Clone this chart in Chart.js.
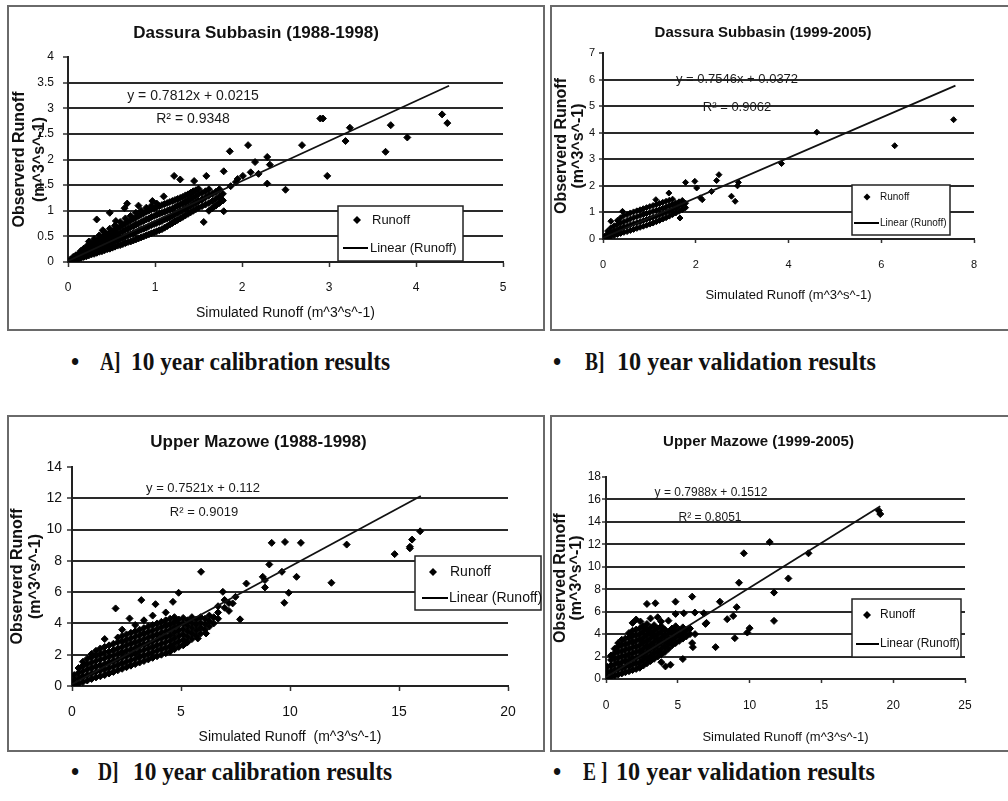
<!DOCTYPE html>
<html><head><meta charset="utf-8">
<script src="https://cdn.jsdelivr.net/npm/chart.js@4.4.1/dist/chart.umd.min.js"></script>
<style>
html,body{margin:0;padding:0;background:#fff;overflow:hidden;width:1008px;height:801px;position:relative}
.panel{position:absolute;border:2px solid #6a6a6a;box-sizing:border-box;background:#fff;overflow:hidden}
.panel canvas{position:absolute;left:0;top:0}
.cap{position:absolute;font-family:'Liberation Serif','Times New Roman',serif;font-weight:bold;font-size:26px;line-height:26px;color:#111;white-space:nowrap;transform-origin:0 50%}
</style></head><body>
<div class="panel" id="pA"><canvas></canvas></div>
<div class="panel" id="pB"><canvas></canvas></div>
<div class="panel" id="pD"><canvas></canvas></div>
<div class="panel" id="pE"><canvas></canvas></div>
<script>
// ---------- DATA ----------
// Scatter values are grouped by simulated runoff: [simulated, [observed values read at that x]]
const seriesLabel = 'Runoff';
const trendLabel = 'Linear (Runoff)';

// A] Dassura Subbasin (1988-1998)
const runoffA = [[0.03,[0.02,0.05]],[0.06,[0.03,0.07,0.1]],[0.09,[0.05,0.09,0.13]],[0.12,[0.06,0.11,0.16]],[0.15,[0.08,0.13,0.18,0.22]],[0.18,[0.1,0.15,0.21,0.26]],[0.21,[0.11,0.17,0.24,0.3]],[0.24,[0.13,0.19,0.26,0.33,0.4]],[0.27,[0.15,0.22,0.29,0.36]],[0.3,[0.16,0.24,0.31,0.39,0.45]],[0.33,[0.18,0.26,0.34,0.42,0.83]],[0.36,[0.2,0.28,0.37,0.45,0.52]],[0.39,[0.21,0.3,0.39,0.48]],[0.4,[0.62]],[0.42,[0.23,0.32,0.42,0.51,0.58]],[0.45,[0.25,0.34,0.44,0.54]],[0.48,[0.26,0.36,0.47,0.57,0.65,0.96]],[0.51,[0.28,0.38,0.49,0.6]],[0.54,[0.3,0.41,0.52,0.63,0.71]],[0.55,[0.8]],[0.57,[0.32,0.43,0.55,0.66]],[0.6,[0.33,0.45,0.57,0.69,0.78]],[0.63,[0.35,0.47,0.6,0.72]],[0.65,[1.05]],[0.66,[0.37,0.5,0.63,0.75,0.85]],[0.68,[1.14]],[0.69,[0.39,0.52,0.65,0.78]],[0.72,[0.4,0.54,0.68,0.81,0.9]],[0.75,[0.42,0.56,0.7,0.84]],[0.78,[0.44,0.58,0.73,0.87,0.96]],[0.81,[0.46,0.61,0.75,0.9,1.1]],[0.84,[0.48,0.63,0.78,0.92,1.0]],[0.87,[0.5,0.65,0.8,0.95]],[0.9,[0.52,0.67,0.83,0.98,1.06]],[0.93,[0.54,0.7,0.85,1.0]],[0.96,[0.56,0.72,0.88,1.03,1.1]],[0.97,[1.19]],[0.99,[0.58,0.74,0.9,1.05]],[1.02,[0.6,0.76,0.92,1.07,1.14]],[1.05,[0.62,0.78,0.94,1.09]],[1.08,[0.64,0.8,0.96,1.11]],[1.1,[1.28]],[1.11,[0.67,0.83,0.98,1.13]],[1.14,[0.7,0.85,1.0,1.15]],[1.17,[0.73,0.87,1.02,1.17]],[1.2,[0.76,0.9,1.04,1.19]],[1.22,[1.68]],[1.23,[0.79,0.93,1.07,1.21]],[1.26,[0.82,0.96,1.1,1.23]],[1.29,[0.85,0.99,1.12,1.25,1.61]],[1.32,[0.88,1.01,1.14,1.27]],[1.35,[0.91,1.04,1.17,1.3]],[1.38,[0.94,1.07,1.2,1.32]],[1.41,[0.97,1.1,1.23,1.35]],[1.44,[1.0,1.13,1.26,1.38]],[1.45,[1.58]],[1.47,[1.03,1.16,1.29,1.4]],[1.5,[1.06,1.19,1.32,1.43]],[1.54,[1.09,1.22,1.35]],[1.56,[0.78]],[1.58,[1.12,1.26,1.38]],[1.59,[1.68]],[1.62,[1.0,1.15,1.3,1.42]],[1.66,[1.05,1.19,1.33]],[1.7,[1.1,1.23,1.37]],[1.74,[1.15,1.28,1.42]],[1.77,[1.22]],[1.78,[1.2,1.33]],[1.79,[0.99,1.77]],[1.86,[2.16]],[1.87,[1.48]],[1.93,[1.56]],[1.95,[1.62]],[2.01,[1.68]],[2.07,[2.28]],[2.1,[1.75]],[2.15,[1.95]],[2.19,[1.72]],[2.29,[2.05,1.53]],[2.32,[1.9]],[2.5,[1.41]],[2.69,[2.28]],[2.9,[2.8]],[2.93,[2.8]],[2.98,[1.68]],[3.19,[2.36]],[3.24,[2.62]],[3.65,[2.15]],[3.71,[2.67]],[3.9,[2.43]],[4.3,[2.88]],[4.36,[2.71]]];
const trendA = [[0,0.02],[4.38,3.44]];
const xTicksA = [0,1,2,3,4,5];
const yTicksA = [0,0.5,1,1.5,2,2.5,3,3.5,4];

// B] Dassura Subbasin (1999-2005)
const runoffB = [[0.04,[0.02,0.1]],[0.1,[0.05,0.2,0.3]],[0.17,[0.09,0.25,0.42,0.67]],[0.24,[0.13,0.3,0.5]],[0.31,[0.17,0.35,0.55,0.7]],[0.38,[0.21,0.4,0.6,0.8]],[0.42,[1.04]],[0.45,[0.25,0.45,0.65,0.88]],[0.52,[0.28,0.48,0.7,0.92]],[0.59,[0.32,0.53,0.75,0.98]],[0.66,[0.36,0.57,0.8,1.02]],[0.73,[0.4,0.61,0.84,1.06]],[0.8,[0.44,0.65,0.88,1.1]],[0.87,[0.48,0.7,0.92,1.14]],[0.94,[0.52,0.74,0.96,1.18]],[1.01,[0.56,0.78,1.0,1.22]],[1.08,[0.6,0.82,1.04,1.26]],[1.14,[1.48]],[1.15,[0.65,0.86,1.08,1.3]],[1.22,[0.7,0.9,1.12,1.34]],[1.29,[0.75,0.95,1.16,1.38]],[1.36,[0.8,1.0,1.2,1.42]],[1.42,[1.73]],[1.43,[0.86,1.05,1.25,1.46]],[1.5,[0.92,1.1,1.3,1.5]],[1.57,[0.98,1.16,1.35]],[1.64,[1.04,1.22,1.4]],[1.66,[0.79]],[1.71,[1.1,1.28,1.45]],[1.78,[1.18,1.35,2.13]],[1.98,[2.17]],[2.02,[1.92]],[2.1,[1.55]],[2.14,[1.48]],[2.34,[1.79]],[2.45,[2.2]],[2.5,[2.42]],[2.77,[1.61]],[2.85,[1.42]],[2.9,[2.0]],[2.92,[2.13]],[3.85,[2.84]],[4.61,[4.02]],[6.29,[3.51]],[7.56,[4.49]]];
const trendB = [[0,0.04],[7.6,5.77]];
const xTicksB = [0,2,4,6,8];
const yTicksB = [0,1,2,3,4,5,6,7];

// D] Upper Mazowe (1988-1998)
const runoffD = [[0.1,[0.1,0.4,0.7]],[0.3,[0.15,0.5,0.85,1.15]],[0.5,[0.25,0.6,0.95,1.3,1.55]],[0.7,[0.35,0.7,1.05,1.4,1.75]],[0.9,[0.45,0.8,1.15,1.5,1.85,2.05]],[1.1,[0.55,0.9,1.25,1.6,1.95,2.25]],[1.3,[0.62,0.98,1.33,1.7,2.05,2.4]],[1.5,[0.7,1.05,1.4,1.78,2.15,2.5,3.0]],[1.7,[0.8,1.15,1.5,1.85,2.2,2.6]],[1.9,[0.9,1.25,1.6,1.95,2.3,2.7]],[2.0,[4.96]],[2.1,[1.0,1.35,1.7,2.05,2.4,2.8,3.1]],[2.3,[1.1,1.45,1.8,2.15,2.5,2.85,3.2,3.6]],[2.5,[1.2,1.55,1.9,2.25,2.6,2.95,3.3]],[2.64,[4.32]],[2.7,[1.3,1.65,2.0,2.35,2.7,3.05,3.4]],[2.9,[1.4,1.75,2.1,2.45,2.8,3.15,3.5,3.9]],[3.1,[1.5,1.85,2.2,2.55,2.9,3.25,3.6]],[3.18,[5.49]],[3.3,[1.6,1.95,2.3,2.65,3.0,3.35,3.7,4.2]],[3.5,[1.7,2.05,2.4,2.75,3.1,3.45,3.8]],[3.7,[1.8,2.15,2.5,2.85,3.2,3.55,3.9,4.5]],[3.83,[5.23]],[3.9,[1.9,2.25,2.6,2.95,3.3,3.65,4.0]],[4.1,[2.0,2.35,2.7,3.05,3.4,3.75,4.1]],[4.3,[2.1,2.45,2.8,3.15,3.5,3.85,4.2,4.7]],[4.5,[2.2,2.55,2.9,3.25,3.6,3.95,4.3]],[4.55,[2.51]],[4.63,[5.38]],[4.7,[2.35,2.7,3.05,3.4,3.75,4.1,4.4]],[4.89,[5.96]],[4.9,[2.5,2.85,3.2,3.55,3.9,4.25]],[5.1,[2.6,2.95,3.3,3.65,4.0,4.35]],[5.24,[2.77]],[5.3,[2.8,3.15,3.5,3.85,4.2]],[5.5,[3.0,3.35,3.7,4.05,4.4]],[5.7,[3.2,3.55,3.9,4.25]],[5.77,[3.04]],[5.9,[3.35,3.7,4.05,4.4]],[5.92,[7.3]],[6.1,[3.6,3.95,4.3]],[6.15,[3.36]],[6.3,[3.8,4.15,4.5]],[6.5,[4.0,4.4]],[6.7,[4.3,4.7,5.1]],[6.92,[6.02]],[7.0,[5.0,5.5]],[7.2,[4.8,5.3]],[7.37,[5.28]],[7.5,[5.7]],[7.71,[4.26]],[8.0,[6.55]],[8.75,[6.98]],[8.85,[6.77,6.3]],[9.05,[7.77]],[9.16,[9.15]],[9.63,[7.3]],[9.74,[5.32]],[9.77,[9.21]],[9.94,[5.96]],[10.3,[6.98]],[10.5,[9.15]],[11.9,[6.6]],[12.6,[9.04]],[14.8,[8.43]],[15.5,[8.8,8.9]],[15.6,[9.36]],[15.97,[9.89]]];
const trendD = [[0,0.11],[16.0,12.15]];
const xTicksD = [0,5,10,15,20];
const yTicksD = [0,2,4,6,8,10,12,14];

// E] Upper Mazowe (1999-2005)
const runoffE = [[0.1,[0.1,0.6,1.1]],[0.35,[0.2,0.7,1.2,1.7,2.1]],[0.6,[0.3,0.8,1.3,1.8,2.3,2.7]],[0.85,[0.4,0.9,1.4,1.9,2.4,2.9,3.2]],[1.1,[0.5,1.0,1.5,2.0,2.5,3.0,3.5]],[1.35,[0.6,1.1,1.6,2.1,2.6,3.1,3.6]],[1.6,[0.7,1.2,1.7,2.2,2.7,3.2,3.7,4.1]],[1.85,[0.8,1.3,1.8,2.3,2.8,3.3,3.8,4.3,5.0]],[2.1,[0.9,1.4,1.9,2.4,2.9,3.4,3.9,4.4,5.3]],[2.35,[1.0,1.5,2.0,2.5,3.0,3.5,4.0,4.5]],[2.4,[5.12]],[2.6,[1.2,1.7,2.2,2.7,3.2,3.7,4.2,4.7]],[2.85,[1.4,1.9,2.4,2.9,3.4,3.9,4.4,4.9,6.69]],[3.1,[1.6,2.1,2.6,3.1,3.6,4.1,4.6,5.4]],[3.35,[1.8,2.3,2.8,3.3,3.8,4.3,4.8]],[3.44,[6.75]],[3.6,[2.0,2.5,3.0,3.5,4.0,4.5,5.5]],[3.84,[5.12]],[3.85,[1.5,2.2,2.7,3.2,3.7,4.2,4.7]],[4.1,[2.4,2.9,3.4,3.9,4.4]],[4.14,[1.12]],[4.35,[2.7,3.2,3.7,4.2,5.2]],[4.49,[1.27]],[4.6,[3.0,3.5,4.0,4.5]],[4.84,[6.89]],[4.85,[3.2,3.7,4.2,4.7,5.8]],[5.1,[3.4,3.9,4.4]],[5.35,[3.6,4.1,4.6,1.78]],[5.42,[5.86]],[5.6,[3.8,4.3]],[5.85,[4.0,4.5]],[6.0,[7.34,3.2]],[6.05,[2.84]],[6.19,[5.92]],[6.2,[4.0]],[6.81,[5.86]],[6.93,[4.91]],[7.0,[5.0]],[7.63,[2.84]],[7.93,[6.89]],[8.44,[5.33]],[8.86,[5.62]],[8.97,[3.64]],[9.1,[6.4]],[9.26,[8.58]],[9.6,[11.2]],[9.84,[4.14]],[10.0,[4.53]],[11.4,[12.2]],[11.7,[7.7,5.18]],[12.7,[8.96]],[14.1,[11.2]],[19.0,[15.0]],[19.1,[14.7]]];
const trendE = [[0,0.15],[19.1,15.4]];
const xTicksE = [0,5,10,15,20,25];
const yTicksE = [0,2,4,6,8,10,12,14,16,18];

// ---------- RENDER ----------
const FONT = "'Liberation Sans', Arial, sans-serif";
Chart.defaults.font.family = FONT;
Chart.defaults.color = '#111';

function pairs(cols){ const out=[]; cols.forEach(c=>c[1].forEach(y=>out.push({x:c[0],y:y}))); return out; }
function line(t){ return t.map(p=>({x:p[0],y:p[1]})); }
function diamond(c,x,y,r){c.beginPath();c.moveTo(x,y-r);c.lineTo(x+r,y);c.lineTo(x,y+r);c.lineTo(x-r,y);c.closePath();c.fill();}

function build(P){
  const panel = document.getElementById(P.id);
  panel.style.left=P.box[0]+'px'; panel.style.top=P.box[1]+'px';
  panel.style.width=P.box[2]+'px'; panel.style.height=P.box[3]+'px';
  const cv = panel.querySelector('canvas');
  const ix=P.box[0]+2, iy=P.box[1]+2, w=P.box[2]-4, h=P.box[3]-4;
  cv.width=w; cv.height=h; cv.style.width=w+'px'; cv.style.height=h+'px';
  const a={l:P.area[0]-ix,t:P.area[1]-iy,r:P.area[2]-ix,b:P.area[3]-iy};
  const tLh=P.titleSize*1.2, tPadTop=(P.titleY-iy)-tLh/2, tPadBot=a.t-tPadTop-tLh;
  const tl=P.tickLen;
  const xPad=P.xTickY-P.area[3]-tl-P.tickSize*0.6;
  const yPad=P.area[0]-tl-P.yTickRight;
  const xtPadBot=(iy+h)-P.xTitleY-P.xTitleSize*0.6;
  const ytPadTop=P.yTitleX-ix-P.yTitleLh/2;
  const yMax=P.yTicks[P.yTicks.length-1];
  const extras={id:'extras',afterDraw(chart){
    const c=chart.ctx; c.save();
    c.fillStyle='#1a1a1a'; c.textAlign='center'; c.textBaseline='middle';
    c.font=P.eqSize+'px '+FONT;
    c.fillText(P.eqText,P.eqPos[0]-ix,P.eqPos[1]-iy);
    c.fillText(P.r2Text,P.r2Pos[0]-ix,P.r2Pos[1]-iy);
    const L=P.legend;
    const lx=L.box[0]-ix, ly=L.box[1]-iy, lw=L.box[2]-L.box[0], lh=L.box[3]-L.box[1];
    c.fillStyle='#fff'; c.fillRect(lx,ly,lw,lh);
    c.strokeStyle='#222'; c.lineWidth=1.5; c.strokeRect(lx,ly,lw,lh);
    c.fillStyle='#000'; diamond(c,L.marker[0]-ix,L.marker[1]-iy,P.pointR+0.5);
    c.strokeStyle='#000'; c.lineWidth=2; c.beginPath();
    c.moveTo(L.line[0]-ix,L.line[2]-iy); c.lineTo(L.line[1]-ix,L.line[2]-iy); c.stroke();
    c.fillStyle='#111'; c.textAlign='left'; c.font=L.size+'px '+FONT;
    const ds=chart.data.datasets;
    c.fillText(ds[1].label,L.t1[0]-ix,L.t1[1]-iy);
    c.fillText(ds[0].label,L.t2[0]-ix,L.t2[1]-iy);
    c.restore();
  }};
  return new Chart(cv,{
    type:'scatter',
    data:{datasets:[
      {label:trendLabel,type:'line',data:line(P.trend),borderColor:'#111',borderWidth:1.8,pointRadius:0,fill:false,order:0},
      {label:seriesLabel,data:pairs(P.points),pointStyle:'rectRot',pointRadius:P.pointR,backgroundColor:'#000',borderColor:'#000',borderWidth:1,order:1}
    ]},
    options:{
      responsive:false,animation:false,devicePixelRatio:1,
      layout:{padding:{left:0,top:0,right:w-a.r,bottom:0}},
      plugins:{legend:{display:false},tooltip:{enabled:false},
        title:{display:true,text:P.title,color:'#111',font:{size:P.titleSize,weight:'bold',lineHeight:1.2},padding:{top:tPadTop,bottom:tPadBot}}},
      scales:{
        x:{type:'linear',min:P.xTicks[0],max:P.xTicks[P.xTicks.length-1],
          afterBuildTicks:s=>{s.ticks=P.xTicks.map(v=>({value:v}));},
          afterFit:s=>{s.height=h-a.b;},
          grid:{drawOnChartArea:false,drawTicks:true,tickLength:tl,tickColor:'#333',tickWidth:1.5},
          border:{display:true,color:'#222',width:2},
          ticks:{font:{size:P.tickSize},color:'#111',padding:xPad,maxRotation:0,autoSkip:false,callback:v=>String(v)},
          title:{display:true,text:P.xTitle,color:'#111',font:{size:P.xTitleSize,lineHeight:1.2},padding:{top:0,bottom:xtPadBot}}},
        y:{type:'linear',min:P.yTicks[0],max:yMax,
          afterBuildTicks:s=>{s.ticks=P.yTicks.map(v=>({value:v}));},
          afterFit:s=>{s.width=a.l;},
          grid:{drawOnChartArea:true,drawTicks:true,tickLength:tl,lineWidth:2,tickWidth:1.5,tickColor:'#333',
            color:ctx=>(ctx.tick&&ctx.tick.value===yMax)?'rgba(0,0,0,0)':'#2a2a2a'},
          border:{display:true,color:'#222',width:2},
          ticks:{font:{size:P.tickSize},color:'#111',padding:yPad,autoSkip:false,callback:v=>String(v)},
          title:{display:true,text:P.yTitle,color:'#111',font:{size:P.yTitleSize,weight:'bold',lineHeight:P.yTitleLh/P.yTitleSize},padding:{top:ytPadTop,bottom:0}}}
      }
    },
    plugins:[extras]
  });
}

build({id:'pA',box:[7,5,538,326],area:[68,57,503,262],title:'Dassura Subbasin (1988-1998)',titleSize:17,titleY:33,
  points:runoffA,trend:trendA,xTicks:xTicksA,yTicks:yTicksA,pointR:3.5,tickLen:5,tickSize:12,xTickY:288,yTickRight:54,
  xTitle:'Simulated Runoff (m^3^s^-1)',xTitleSize:14,xTitleY:313,
  yTitle:['Observerd Runoff','(m^3^s^-1)'],yTitleSize:16,yTitleLh:20,yTitleX:20,
  eqText:'y = 0.7812x + 0.0215',r2Text:'R² = 0.9348',eqSize:14,eqPos:[193,96],r2Pos:[193,119],
  legend:{box:[338,206,463,261],marker:[357,220],t1:[372,220],line:[343,368,248],t2:[370,248],size:13}});

build({id:'pB',box:[550,5,470,326],area:[603,53,974,239],title:'Dassura Subbasin (1999-2005)',titleSize:15,titleY:33,
  points:runoffB,trend:trendB,xTicks:xTicksB,yTicks:yTicksB,pointR:3,tickLen:4,tickSize:11,xTickY:265,yTickRight:595,
  xTitle:'Simulated Runoff (m^3^s^-1)',xTitleSize:13,xTitleY:295,
  yTitle:['Observerd Runoff','(m^3^s^-1)'],yTitleSize:16,yTitleLh:17,yTitleX:562,
  eqText:'y = 0.7546x + 0.0372',r2Text:'R² = 0.9062',eqSize:13,eqPos:[737,79],r2Pos:[737,107],
  legend:{box:[852,185,950,235],marker:[867,197],t1:[880,197],line:[854,879,223],t2:[880,223],size:10}});

build({id:'pD',box:[7,415,538,337],area:[72,467,508,686],title:'Upper Mazowe (1988-1998)',titleSize:17,titleY:442,
  points:runoffD,trend:trendD,xTicks:xTicksD,yTicks:yTicksD,pointR:3.5,tickLen:5,tickSize:14,xTickY:712,yTickRight:62,
  xTitle:'Simulated Runoff  (m^3^s^-1)',xTitleSize:14,xTitleY:737,
  yTitle:['Observerd Runoff','(m^3^s^-1)'],yTitleSize:16,yTitleLh:18,yTitleX:18,
  eqText:'y = 0.7521x + 0.112',r2Text:'R² = 0.9019',eqSize:13,eqPos:[203,488],r2Pos:[204,512],
  legend:{box:[415,556,541,610],marker:[433,572],t1:[450,572],line:[422,448,598],t2:[449,598],size:14}});

build({id:'pE',box:[550,415,470,337],area:[606,477,965,679],title:'Upper Mazowe (1999-2005)',titleSize:15,titleY:442,
  points:runoffE,trend:trendE,xTicks:xTicksE,yTicks:yTicksE,pointR:3.5,tickLen:4,tickSize:12,xTickY:706,yTickRight:601,
  xTitle:'Simulated Runoff (m^3^s^-1)',xTitleSize:13,xTitleY:737,
  yTitle:['Observed Runoff','(m^3^s^-1)'],yTitleSize:16,yTitleLh:16,yTitleX:561,
  eqText:'y = 0.7988x + 0.1512',r2Text:'R² = 0.8051',eqSize:12,eqPos:[711,493],r2Pos:[710,518],
  legend:{box:[852,599,961,657],marker:[867,615],t1:[880,615],line:[856,879,644],t2:[880,644],size:12}});

// ---------- CAPTIONS ----------
function cap(text,left,cy,targetW,sx){
  const d=document.createElement('div'); d.className='cap'; d.textContent=text;
  d.style.left=left+'px'; d.style.top=(cy-13)+'px';
  document.body.appendChild(d);
  const k = targetW ? targetW/d.getBoundingClientRect().width : (sx||1);
  d.style.transform='scaleX('+k+')';
}
cap('•',71,362,0,0.9); cap('A]',100,362,0,0.75); cap('10 year calibration results',131,362,259);
cap('•',553,362,0,0.9); cap('B]',585,362,0,0.75); cap('10 year validation results',617,362,259);
cap('•',71,772,0,0.9); cap('D]',98,772,0,0.75); cap('10 year calibration results',133,772,259);
cap('•',553,772,0,0.9); cap('E ]',583,772,0,0.75); cap('10 year validation results',616,772,259);
</script>
</body></html>
